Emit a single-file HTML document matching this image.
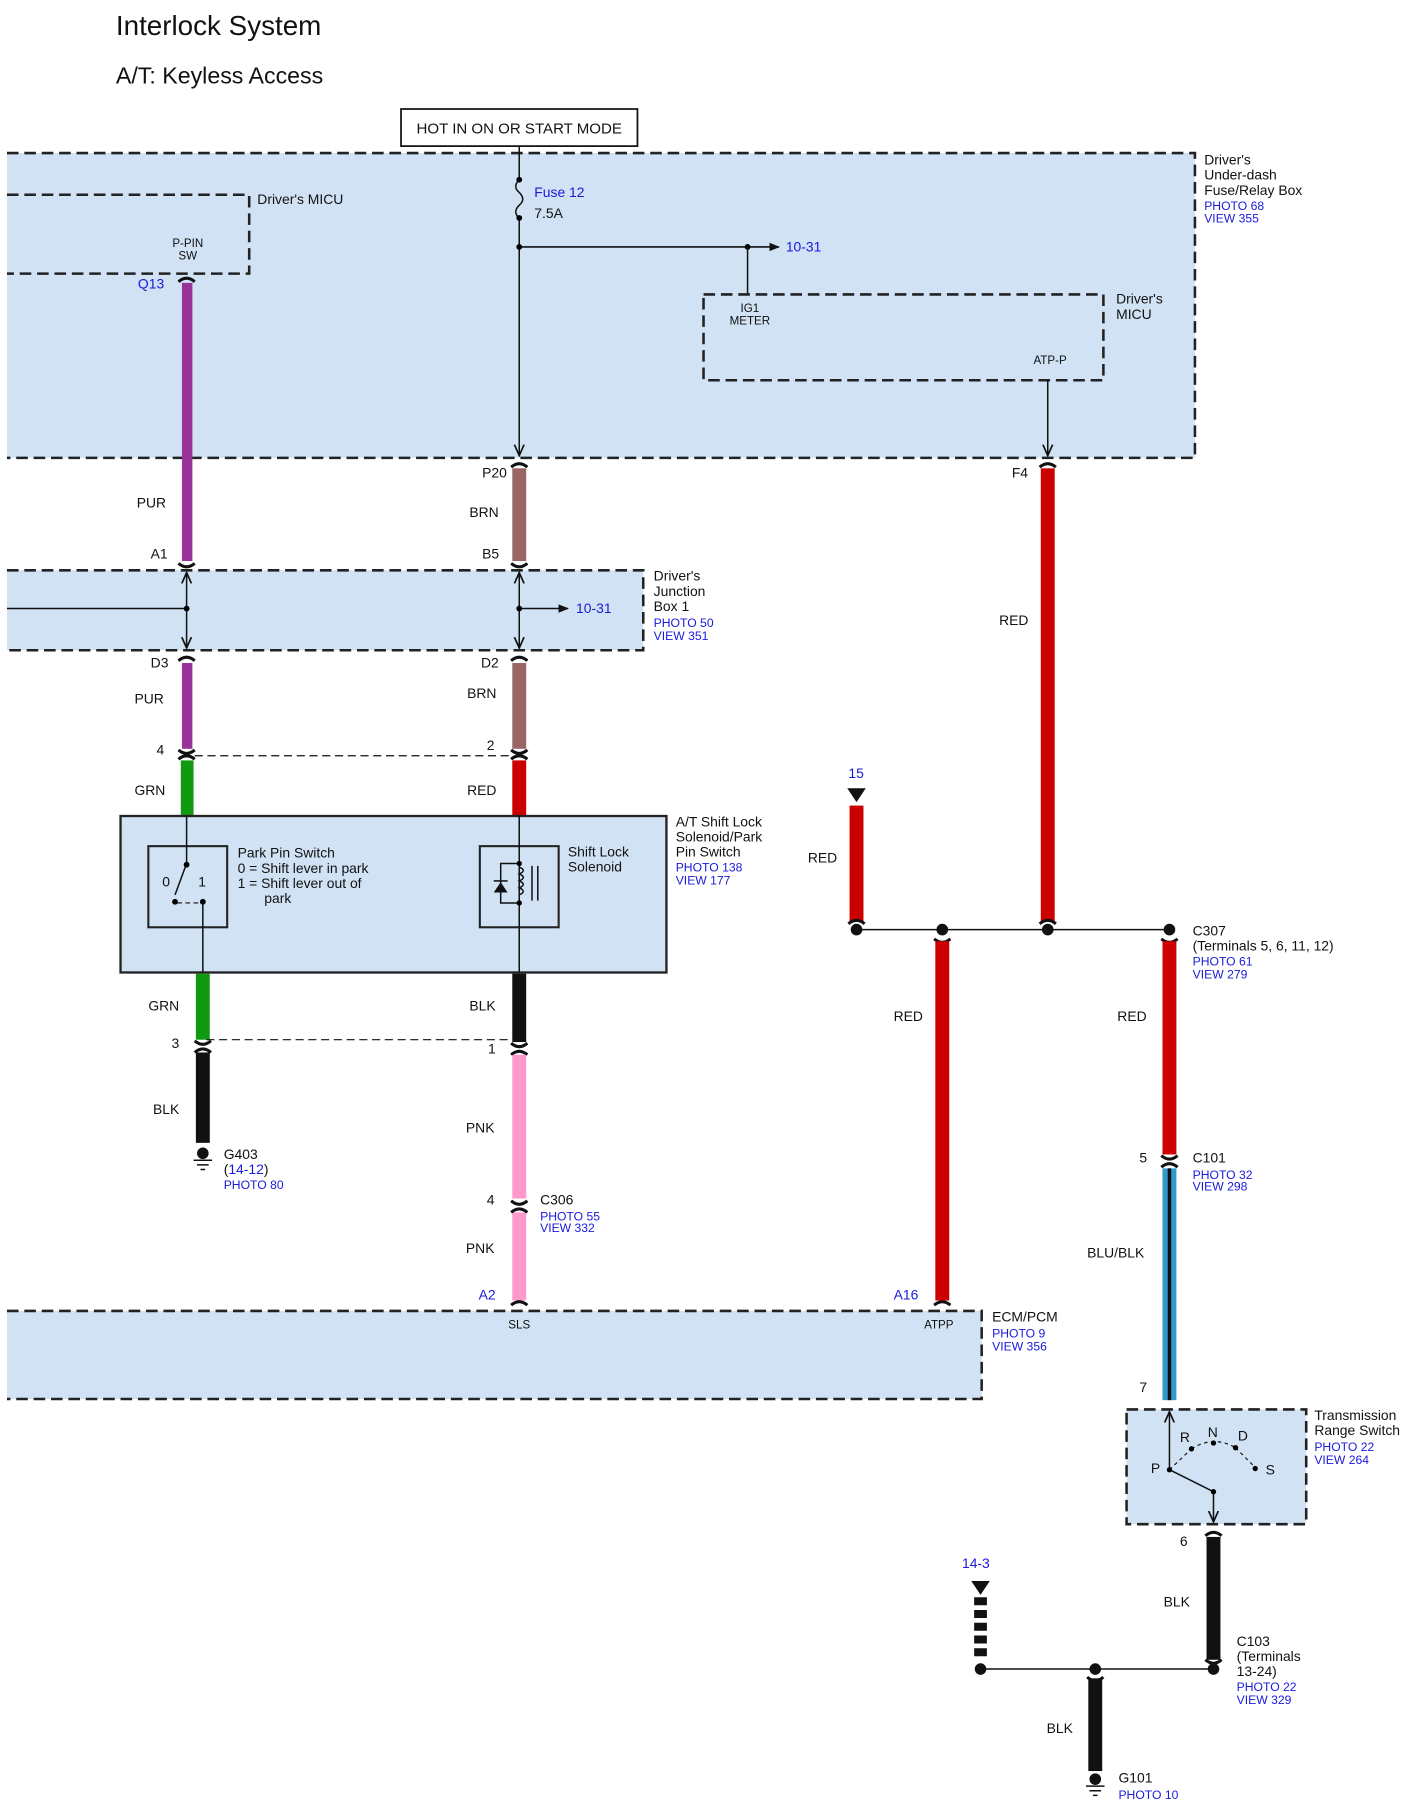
<!DOCTYPE html>
<html><head><meta charset="utf-8"><style>
html,body{margin:0;padding:0;background:#fff}
svg{display:block}
text{font-family:"Liberation Sans",Arial,sans-serif;font-size:12px;fill:#111}
.b{fill:#1a1adb;font-size:10.5px}
.s{font-size:10px}
.box{fill:#d0e2f4;stroke:#222;stroke-width:2.2;stroke-dasharray:10 5}
.ln{stroke:#111;stroke-width:1.3;fill:none}
.cap{stroke:#111;stroke-width:2.6;fill:none}
</style></head><body>
<svg width="1414" height="1814" viewBox="0 0 1220 1565" xmlns="http://www.w3.org/2000/svg">
<defs>
<marker id="ar" viewBox="0 0 10 10" refX="9" refY="5" markerWidth="8" markerHeight="8" orient="auto-start-reverse"><path d="M0,1 L9,5 L0,9" fill="none" stroke="#111" stroke-width="1.4"/></marker>
<marker id="af" viewBox="0 0 10 10" refX="9" refY="5" markerWidth="7" markerHeight="7" orient="auto"><path d="M0,1 L10,5 L0,9 z" fill="#111"/></marker>
</defs>
<text x="100" y="30" style="font-size:24px">Interlock System</text>
<text x="100" y="72" style="font-size:20px">A/T: Keyless Access</text>
<rect x="346" y="94" width="204" height="32" fill="#fff" stroke="#111" stroke-width="1.5"/>
<text x="448" y="115" text-anchor="middle" style="font-size:13px">HOT IN ON OR START MODE</text>

<!-- fuse box -->
<path d="M6,132 H1031 V395 H6" class="box"/>
<text x="1039" y="142">Driver's</text><text x="1039" y="155">Under-dash</text><text x="1039" y="168">Fuse/Relay Box</text>
<text x="1039" y="181" class="b">PHOTO 68</text><text x="1039" y="192" class="b">VIEW 355</text>
<path d="M6,168 H215 V236 H6" class="box" style="fill:none"/>
<text x="222" y="176">Driver's MICU</text>
<text x="162" y="213" class="s" text-anchor="middle">P-PIN</text><text x="162" y="224" class="s" text-anchor="middle">SW</text>
<path d="M448,126 V155 M448,188 V393" class="ln" marker-end="url(#ar)"/>
<path d="M448,155 q-6,6 0,11 q6,6 0,11 q-6,6 0,11" class="ln"/>
<circle cx="448" cy="155" r="2.5"/><circle cx="448" cy="188" r="2.5"/>
<text x="461" y="170" class="b" style="font-size:12px">Fuse 12</text><text x="461" y="188">7.5A</text>
<path d="M448,213 H672" class="ln" marker-end="url(#af)"/>
<circle cx="448" cy="213" r="2.5"/><circle cx="645" cy="213" r="2.5"/>
<text x="678" y="217" class="b" style="font-size:12px">10-31</text>
<path d="M645,213 V254" class="ln"/>
<rect x="607" y="254" width="345" height="74" class="box"/>
<text x="647" y="269" class="s" text-anchor="middle">IG1</text><text x="647" y="280" class="s" text-anchor="middle">METER</text>
<text x="963" y="262">Driver's</text><text x="963" y="275">MICU</text>
<text x="906" y="314" class="s" text-anchor="middle">ATP-P</text>
<path d="M904,328 V393" class="ln" marker-end="url(#ar)"/>

<!-- wires -->
<rect x="157" y="244" width="9" height="240" fill="#993399"/>
<rect x="442" y="404" width="12" height="80" fill="#996666"/>
<rect x="898" y="404" width="12" height="391" fill="#cc0000"/>
<text x="119" y="249" class="b" style="font-size:12px">Q13</text>
<text x="416" y="412">P20</text><text x="873" y="412">F4</text>
<text x="118" y="438">PUR</text><text x="405" y="446">BRN</text><text x="862" y="539">RED</text>
<text x="130" y="482">A1</text><text x="416" y="482">B5</text>
<path d="M154,243 q7,-6 14,0 M441,403 q7,-6 14,0 M897,403 q7,-6 14,0 M154,486 q7,6 14,0 M441,486 q7,6 14,0" class="cap"/>

<!-- junction box -->
<path d="M6,492 H555 V561 H6" class="box"/>
<path d="M161,494 V559" class="ln" marker-start="url(#ar)" marker-end="url(#ar)"/>
<path d="M448,494 V559" class="ln" marker-start="url(#ar)" marker-end="url(#ar)"/>
<path d="M6,525 H161" class="ln"/><circle cx="161" cy="525" r="2.5"/>
<path d="M448,525 H490" class="ln" marker-end="url(#af)"/><circle cx="448" cy="525" r="2.5"/>
<text x="497" y="529" class="b" style="font-size:12px">10-31</text>
<text x="564" y="501">Driver's</text><text x="564" y="514">Junction</text><text x="564" y="527">Box 1</text>
<text x="564" y="541" class="b">PHOTO 50</text><text x="564" y="552" class="b">VIEW 351</text>
<text x="130" y="576">D3</text><text x="415" y="576">D2</text>
<path d="M154,570 q7,-6 14,0 M441,570 q7,-6 14,0" class="cap"/>
<rect x="157" y="572" width="9" height="74" fill="#993399"/>
<rect x="442" y="572" width="12" height="74" fill="#996666"/>
<text x="116" y="607">PUR</text><text x="403" y="602">BRN</text>
<text x="135" y="651">4</text><text x="420" y="647">2</text>
<path d="M154,647 q7,6 14,0 M441,647 q7,6 14,0 M154,655 q7,-6 14,0 M441,655 q7,-6 14,0" class="cap"/>
<path d="M168,652 H442" stroke="#111" stroke-width="1" stroke-dasharray="7 4"/>
<rect x="156" y="656" width="11" height="48" fill="#129912"/>
<rect x="442" y="656" width="12" height="48" fill="#cc0000"/>
<text x="116" y="686">GRN</text><text x="403" y="686">RED</text>

<!-- shift lock -->
<rect x="104" y="704" width="471" height="135" fill="#d0e2f4" stroke="#222" stroke-width="2"/>
<rect x="128" y="730" width="68" height="70" fill="none" stroke="#222" stroke-width="1.8"/>
<path d="M161,704 V745 L151,772 M175,778 V839" class="ln"/>
<circle cx="161" cy="746" r="2.5"/><circle cx="151" cy="778" r="2.5"/><circle cx="175" cy="778" r="2.5"/>
<path d="M153,779 H173" stroke="#111" stroke-width="1" stroke-dasharray="4 3"/>
<text x="140" y="765">0</text><text x="171" y="765">1</text>
<text x="205" y="740">Park Pin Switch</text><text x="205" y="753">0 = Shift lever in park</text>
<text x="205" y="766">1 = Shift lever out of</text><text x="228" y="779">park</text>
<rect x="414" y="730" width="68" height="70" fill="none" stroke="#222" stroke-width="1.8"/>
<path d="M448,704 V839" class="ln"/>
<path d="M448,745 H432 V779 H448" class="ln"/>
<path d="M448,748 q7,3 0,6 q7,3 0,6 q7,3 0,6 q7,3 0,6" class="ln"/>
<path d="M426,770 L438,770 L432,761 z" fill="#111"/><path d="M426,760 H438" class="ln"/>
<path d="M459,747 V777 M464,747 V777" class="ln"/>
<circle cx="448" cy="745" r="2.3"/><circle cx="448" cy="779" r="2.3"/>
<text x="490" y="739">Shift Lock</text><text x="490" y="752">Solenoid</text>
<text x="583" y="713">A/T Shift Lock</text><text x="583" y="726">Solenoid/Park</text><text x="583" y="739">Pin Switch</text>
<text x="583" y="752" class="b">PHOTO 138</text><text x="583" y="763" class="b">VIEW 177</text>
<rect x="169" y="840" width="12" height="57" fill="#129912"/>
<rect x="442" y="840" width="12" height="59" fill="#111"/>
<text x="128" y="872">GRN</text><text x="405" y="872">BLK</text>
<text x="148" y="904">3</text><text x="421" y="909">1</text>
<path d="M178,897 H442" stroke="#111" stroke-width="1" stroke-dasharray="7 4"/>
<path d="M168,898 q7,6 14,0 M168,908 q7,-6 14,0 M441,900 q7,6 14,0 M441,910 q7,-6 14,0" class="cap"/>
<rect x="169" y="908" width="12" height="78" fill="#111"/>
<text x="132" y="961">BLK</text>
<circle cx="175" cy="995" r="5" fill="#111"/><path d="M167,1001 H183 M170,1005 H180 M173,1009 H177" class="ln"/>
<text x="193" y="1000">G403</text><text x="193" y="1013">(<tspan class="b" style="font-size:12px">14-12</tspan>)</text>
<text x="193" y="1026" class="b">PHOTO 80</text>
<rect x="442" y="910" width="12" height="124" fill="#ff99cc"/>
<rect x="442" y="1046" width="12" height="76" fill="#ff99cc"/>
<text x="402" y="977">PNK</text><text x="402" y="1081">PNK</text>
<text x="420" y="1039">4</text>
<path d="M441,1036 q7,6 14,0 M441,1046 q7,-6 14,0" class="cap"/>
<text x="466" y="1039">C306</text><text x="466" y="1053" class="b">PHOTO 55</text><text x="466" y="1063" class="b">VIEW 332</text>
<text x="413" y="1121" class="b" style="font-size:12px">A2</text><text x="771" y="1121" class="b" style="font-size:12px">A16</text>
<path d="M441,1126 q7,-6 14,0 M806,1126 q7,-6 14,0" class="cap"/>

<!-- ECM -->
<path d="M6,1131 H847 V1207 H6" class="box"/>
<text x="448" y="1146" class="s" text-anchor="middle">SLS</text><text x="810" y="1146" class="s" text-anchor="middle">ATPP</text>
<text x="856" y="1140">ECM/PCM</text><text x="856" y="1154" class="b">PHOTO 9</text><text x="856" y="1165" class="b">VIEW 356</text>

<!-- right side -->
<text x="732" y="671" class="b" style="font-size:12px">15</text>
<path d="M731,680 H747 L739,692 z" fill="#111"/>
<rect x="733" y="695" width="12" height="100" fill="#cc0000"/>
<text x="697" y="744">RED</text>
<path d="M739,802 H1009" class="ln"/>
<path d="M732,797 q7,-6 14,0 M897,797 q7,-6 14,0" class="cap"/>
<circle cx="739" cy="802" r="5" fill="#111"/><circle cx="813" cy="802" r="5" fill="#111"/>
<circle cx="904" cy="802" r="5" fill="#111"/><circle cx="1009" cy="802" r="5" fill="#111"/>
<path d="M806,810 q7,6 14,0 M1002,810 q7,6 14,0" class="cap"/>
<rect x="807" y="812" width="12" height="310" fill="#cc0000"/>
<rect x="1003" y="812" width="12" height="184" fill="#cc0000"/>
<text x="771" y="881">RED</text><text x="964" y="881">RED</text>
<text x="1029" y="807">C307</text><text x="1029" y="820">(Terminals 5, 6, 11, 12)</text>
<text x="1029" y="833" class="b">PHOTO 61</text><text x="1029" y="844" class="b">VIEW 279</text>
<text x="983" y="1003">5</text>
<path d="M1002,997 q7,6 14,0 M1002,1007 q7,-6 14,0" class="cap"/>
<text x="1029" y="1003">C101</text><text x="1029" y="1017" class="b">PHOTO 32</text><text x="1029" y="1027" class="b">VIEW 298</text>
<rect x="1003" y="1008" width="12" height="200" fill="#3399cc"/>
<rect x="1007.5" y="1008" width="3" height="200" fill="#111"/>
<text x="938" y="1085">BLU/BLK</text>
<text x="983" y="1201">7</text>
<rect x="972" y="1216" width="155" height="99" class="box"/>
<path d="M1009,1268 V1218" class="ln" marker-end="url(#ar)"/>
<path d="M1009,1268 L1047,1287 V1313" class="ln" marker-end="url(#ar)"/>
<path d="M1028,1250 Q1047,1238 1066,1249 M1066,1249 L1083,1266 M1009,1268 L1028,1250" stroke="#111" stroke-width="1" stroke-dasharray="3 3" fill="none"/>
<circle cx="1009" cy="1268" r="2.3"/><circle cx="1028" cy="1250" r="2.3"/><circle cx="1047" cy="1245" r="2.3"/>
<circle cx="1066" cy="1249" r="2.3"/><circle cx="1083" cy="1267" r="2.3"/><circle cx="1047" cy="1287" r="2.3"/>
<text x="993" y="1271">P</text><text x="1018" y="1244">R</text><text x="1042" y="1240">N</text><text x="1068" y="1243">D</text><text x="1092" y="1272">S</text>
<text x="1134" y="1225">Transmission</text><text x="1134" y="1238">Range Switch</text>
<text x="1134" y="1252" class="b">PHOTO 22</text><text x="1134" y="1263" class="b">VIEW 264</text>
<text x="1018" y="1334">6</text>
<path d="M1040,1325 q7,-6 14,0 M1040,1432 q7,6 14,0" class="cap"/>
<rect x="1041" y="1326" width="12" height="106" fill="#111"/>
<text x="1004" y="1386">BLK</text>
<text x="1067" y="1420">C103</text><text x="1067" y="1433">(Terminals</text><text x="1067" y="1446">13-24)</text>
<text x="1067" y="1459" class="b">PHOTO 22</text><text x="1067" y="1470" class="b">VIEW 329</text>
<text x="830" y="1353" class="b" style="font-size:12px">14-3</text>
<path d="M838,1364 H854 L846,1376 z" fill="#111"/>
<path d="M846,1378 V1432" stroke="#111" stroke-width="11" stroke-dasharray="7 4"/>
<path d="M846,1440 H1047" class="ln"/>
<circle cx="846" cy="1440" r="5" fill="#111"/><circle cx="945" cy="1440" r="5" fill="#111"/><circle cx="1047" cy="1440" r="5" fill="#111"/>
<path d="M938,1447 q7,6 14,0" class="cap"/>
<rect x="939" y="1448" width="12" height="80" fill="#111"/>
<text x="903" y="1495">BLK</text>
<circle cx="945" cy="1535" r="5" fill="#111"/><path d="M937,1541 H953 M940,1545 H950 M943,1549 H947" class="ln"/>
<text x="965" y="1538">G101</text><text x="965" y="1552" class="b">PHOTO 10</text>
</svg>
</body></html>
